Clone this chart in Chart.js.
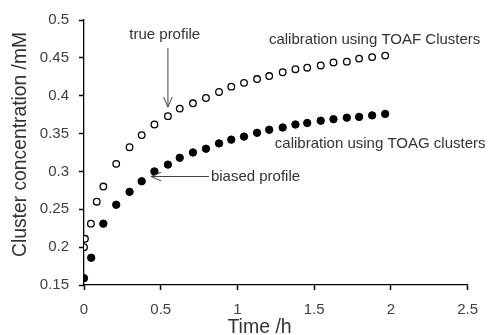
<!DOCTYPE html>
<html>
<head>
<meta charset="utf-8">
<script src="https://cdn.jsdelivr.net/npm/chart.js@4/dist/chart.umd.min.js"></script>
<style>
  body { margin: 0; background: #fff; }
</style>
</head>
<body>
<canvas id="myChart" width="489" height="335"></canvas>
<script>
// TOAF calibration (open circles) - "true profile"
const toafTime = [0, 0.006, 0.045, 0.083, 0.126, 0.21, 0.297, 0.376, 0.459, 0.547, 0.624, 0.71, 0.795, 0.88, 0.96, 1.043, 1.128, 1.207, 1.295, 1.378, 1.455, 1.543, 1.626, 1.713, 1.793, 1.878, 1.963];
const toafConc = [0.2, 0.211, 0.231, 0.26, 0.28, 0.31, 0.332, 0.348, 0.362, 0.373, 0.383, 0.39, 0.397, 0.405, 0.412, 0.417, 0.422, 0.426, 0.431, 0.435, 0.437, 0.44, 0.444, 0.445, 0.449, 0.451, 0.453];

// TOAG calibration (filled circles) - "biased profile"
const toagTime = [0, 0.047, 0.126, 0.21, 0.297, 0.376, 0.459, 0.547, 0.624, 0.71, 0.795, 0.88, 0.96, 1.043, 1.128, 1.207, 1.295, 1.378, 1.455, 1.543, 1.626, 1.713, 1.793, 1.878, 1.963];
const toagConc = [0.159, 0.186, 0.231, 0.256, 0.273, 0.287, 0.3, 0.309, 0.318, 0.325, 0.33, 0.337, 0.342, 0.346, 0.351, 0.355, 0.358, 0.362, 0.364, 0.367, 0.369, 0.371, 0.372, 0.374, 0.376];

const xTicks = [0, 0.5, 1, 1.5, 2, 2.5];
const yTicks = [0.15, 0.2, 0.25, 0.3, 0.35, 0.4, 0.45, 0.5];

// notes placed in data units (time, conc)
const notes = [
  { text: "true profile", x: 0.526, y: 0.4802, align: "center" },
  { text: "calibration using TOAF Clusters", x: 1.205, y: 0.4736, align: "left" },
  { text: "calibration using TOAG clusters", x: 1.244, y: 0.3362, align: "left" },
  { text: "biased profile", x: 0.827, y: 0.2927, align: "left" },
];
const arrows = [
  { from: [0.547, 0.463], to: [0.547, 0.385] },
  { from: [0.814, 0.2933], to: [0.436, 0.2933] },
];

const toPoints = (xs, ys) => xs.map((x, i) => ({ x: x, y: ys[i] }));

const notesPlugin = {
  id: "notes",
  afterDatasetsDraw(chart) {
    const c = chart.ctx;
    const sx = chart.scales.x;
    const sy = chart.scales.y;
    c.save();
    c.font = "15px 'Liberation Sans', Arial, sans-serif";
    c.fillStyle = "#333";
    c.textBaseline = "middle";
    notes.forEach((n) => {
      c.textAlign = n.align;
      c.fillText(n.text, sx.getPixelForValue(n.x), sy.getPixelForValue(n.y));
    });
    c.strokeStyle = "#444";
    c.lineWidth = 1;
    arrows.forEach((a) => {
      const x1 = sx.getPixelForValue(a.from[0]);
      const y1 = sy.getPixelForValue(a.from[1]);
      const x2 = sx.getPixelForValue(a.to[0]);
      const y2 = sy.getPixelForValue(a.to[1]);
      const ang = Math.atan2(y2 - y1, x2 - x1);
      const len = 11;
      const spread = 0.4;
      c.beginPath();
      c.moveTo(x1, y1);
      c.lineTo(x2, y2);
      c.moveTo(x2 - len * Math.cos(ang - spread), y2 - len * Math.sin(ang - spread));
      c.lineTo(x2, y2);
      c.lineTo(x2 - len * Math.cos(ang + spread), y2 - len * Math.sin(ang + spread));
      c.stroke();
    });
    c.restore();
  },
};

const ctx = document.getElementById("myChart");

const config = {
  type: "scatter",
  data: {
    datasets: [
      {
        label: "calibration using TOAF Clusters",
        data: toPoints(toafTime, toafConc),
        pointRadius: 3.3,
        pointBorderWidth: 1.3,
        borderColor: "#000",
        backgroundColor: "#fff",
      },
      {
        label: "calibration using TOAG clusters",
        data: toPoints(toagTime, toagConc),
        pointRadius: 3.7,
        pointBorderWidth: 1,
        borderColor: "#000",
        backgroundColor: "#000",
      },
    ],
  },
  options: {
    responsive: false,
    animation: false,
    layout: { padding: { top: 20, right: 15, left: 0, bottom: 0 } },
    plugins: {
      legend: { display: false },
      tooltip: { enabled: false },
    },
    scales: {
      x: {
        type: "linear",
        min: 0,
        max: 2.5,
        afterFit: (scale) => { scale.height = 50; },
        afterBuildTicks: (scale) => { scale.ticks = xTicks.map((v) => ({ value: v })); },
        ticks: {
          font: { size: 15, family: "'Liberation Sans', Arial, sans-serif" },
          color: "#404040",
          padding: 11,
          callback: (v) => String(+v.toFixed(2)),
        },
        grid: { drawOnChartArea: false, tickLength: 5, color: "#000", tickWidth: 1.5 },
        border: { color: "#000", width: 1.3 },
        title: {
          display: true,
          text: "Time /h\u00a0\u00a0\u00a0\u00a0\u00a0\u00a0",
          font: { size: 19.5, family: "'Liberation Sans', Arial, sans-serif", lineHeight: 0.8 },
          color: "#333",
          padding: 0,
        },
      },
      y: {
        type: "linear",
        min: 0.15,
        max: 0.5,
        afterFit: (scale) => { scale.width = 84; },
        afterBuildTicks: (scale) => { scale.ticks = yTicks.map((v) => ({ value: v })); },
        ticks: {
          font: { size: 15, family: "'Liberation Sans', Arial, sans-serif" },
          color: "#404040",
          padding: 10,
          callback: (v) => String(+v.toFixed(2)),
        },
        grid: { drawOnChartArea: false, tickLength: 5, color: "#000", tickWidth: 1.5 },
        border: { color: "#000", width: 1.3 },
        title: {
          display: true,
          text: "\u00a0\u00a0\u00a0Cluster concentration /mM",
          font: { size: 19.3, family: "'Liberation Sans', Arial, sans-serif" },
          color: "#333",
          padding: { top: 9, bottom: 0 },
        },
      },
    },
  },
  plugins: [notesPlugin],
};

const myChart = new Chart(ctx, config);
</script>
</body>
</html>
